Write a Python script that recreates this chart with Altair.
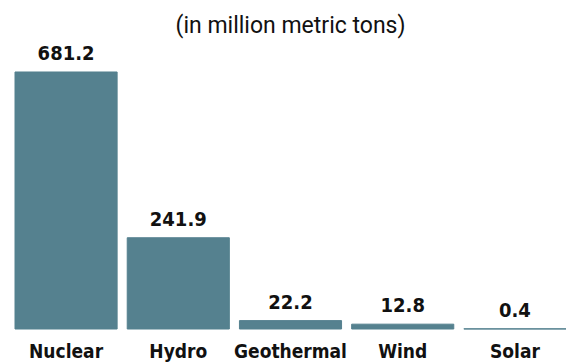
import altair as alt
import pandas as pd

sources = ["Nuclear", "Hydro", "Geothermal", "Wind", "Solar"]
values = [681.2, 241.9, 22.2, 12.8, 0.4]
labels = ["681.2", "241.9", "22.2", "12.8", "0.4"]

df = pd.DataFrame({"source": sources, "value": values, "label": labels})

BAR = "#55818f"
LABEL_FONT = "DejaVu Sans Condensed"
PLOT_H = 289

x = alt.X(
    "source:N",
    sort=sources,
    scale=alt.Scale(paddingInner=0.09, paddingOuter=0),
    axis=None,
)
y = alt.Y("value:Q", scale=alt.Scale(domain=[0, 766], nice=False), axis=None)

bars = alt.Chart(df).mark_bar(color=BAR, stroke=BAR, strokeWidth=1).encode(x=x, y=y)

values_text = alt.Chart(df).mark_text(
    font=LABEL_FONT,
    fontWeight="bold",
    fontSize=20,
    color="#111111",
    baseline="alphabetic",
    dy=-12,
).encode(x=alt.X("source:N", sort=sources), y=alt.Y("value:Q"), text="label:N")

cat_text = alt.Chart(df).mark_text(
    font=LABEL_FONT,
    fontWeight="bold",
    fontSize=19,
    color="#111111",
    baseline="alphabetic",
    dy=29,
).encode(x=alt.X("source:N", sort=sources), y=alt.value(PLOT_H), text="source:N")

chart = (
    alt.layer(bars, values_text, cat_text)
    .properties(
        width=551,
        height=PLOT_H,
        padding={"left": 15, "top": 40, "right": 0, "bottom": 35},
        autosize=alt.AutoSizeParams(type="none"),
        title=alt.TitleParams(
            "(in million metric tons)",
            font="Roboto",
            fontSize=23,
            fontWeight="normal",
            color="#111111",
            anchor="middle",
            baseline="alphabetic",
            offset=8,
            dy=24,
        ),
        background="white",
    )
    .configure_view(stroke=None)
)

chart.save("out.html", embed_options={"renderer": "svg", "actions": False})
